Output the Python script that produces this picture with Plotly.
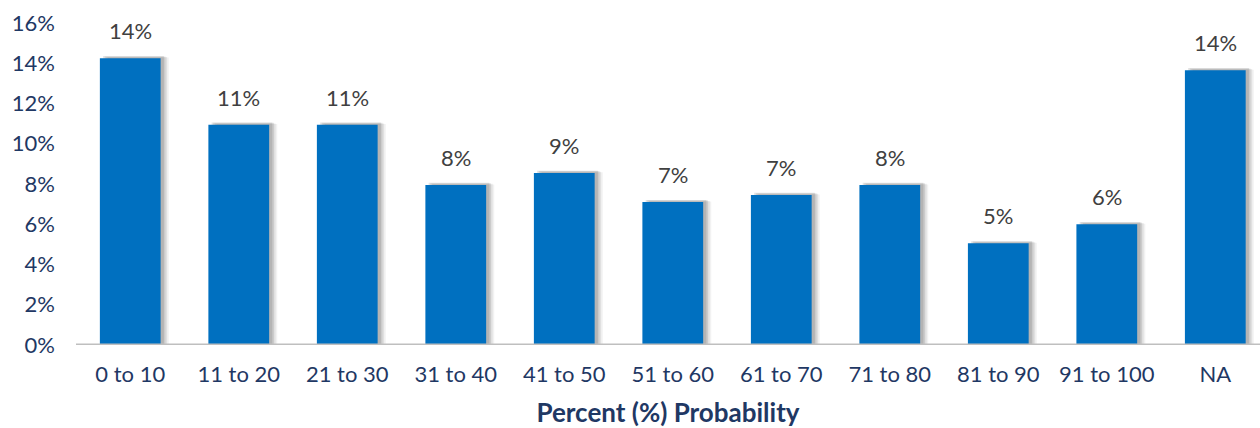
import plotly.graph_objects as go

categories = ["0 to 10", "11 to 20", "21 to 30", "31 to 40", "41 to 50",
              "51 to 60", "61 to 70", "71 to 80", "81 to 90", "91 to 100", "NA"]
shares = [14.25, 10.95, 10.95, 7.95, 8.55, 7.1, 7.45, 7.95, 5.05, 6.0, 13.65]
y_ticks = [0, 2, 4, 6, 8, 10, 12, 14, 16]

BAR_BLUE = "#0070C0"
NAVY = "#1F3864"
LABEL_GREY = "#404040"
FONT = "Lato"
BAR_W = 0.56

x_idx = list(range(len(categories)))
fig = go.Figure()

# soft drop shadow behind each bar, offset to the right
for dx, dy, a in [(0.075, 0.03, 0.05), (0.06, 0.06, 0.07), (0.045, 0.09, 0.09), (0.03, 0.11, 0.11)]:
    fig.add_trace(go.Bar(
        x=x_idx, y=[v + dy for v in shares], width=BAR_W, offset=-BAR_W / 2 + dx,
        marker=dict(color=f"rgba(0,0,0,{a})", line=dict(width=0)),
        hoverinfo="skip", showlegend=False,
    ))

fig.add_trace(go.Bar(
    x=x_idx, y=shares, width=BAR_W, offset=-BAR_W / 2,
    marker=dict(color=BAR_BLUE, line=dict(width=0)),
    showlegend=False,
))

for i, v in enumerate(shares):
    fig.add_annotation(
        x=i, y=v, text=f"{round(v)}%", showarrow=False,
        yanchor="bottom", yshift=12,
        font=dict(family=FONT, size=22, color=LABEL_GREY),
    )

fig.update_layout(
    barmode="overlay",
    width=1260, height=428,
    margin=dict(l=76, r=0, t=23, b=83),
    plot_bgcolor="white", paper_bgcolor="white",
    font=dict(family=FONT, size=22, color=NAVY),
    xaxis=dict(
        tickmode="array", tickvals=x_idx, ticktext=categories,
        range=[-0.5, 10.412], showgrid=False, zeroline=False,
        showline=False, ticks="", ticklabelstandoff=14,
        title=dict(text="<b>Percent (%) Probability</b>", standoff=18,
                   font=dict(family=FONT, size=26, color=NAVY)),
    ),
    yaxis=dict(
        range=[0, 16], tickvals=y_ticks, ticktext=[f"{t}%" for t in y_ticks],
        showgrid=False, zeroline=False, showline=False, ticks="",
        ticklabelstandoff=20,
    ),
    shapes=[dict(type="line", xref="paper", yref="y", x0=0, x1=1, y0=0, y1=0,
                 line=dict(color="#BFBFBF", width=3), layer="above")],
)

fig.write_html("out.html")
